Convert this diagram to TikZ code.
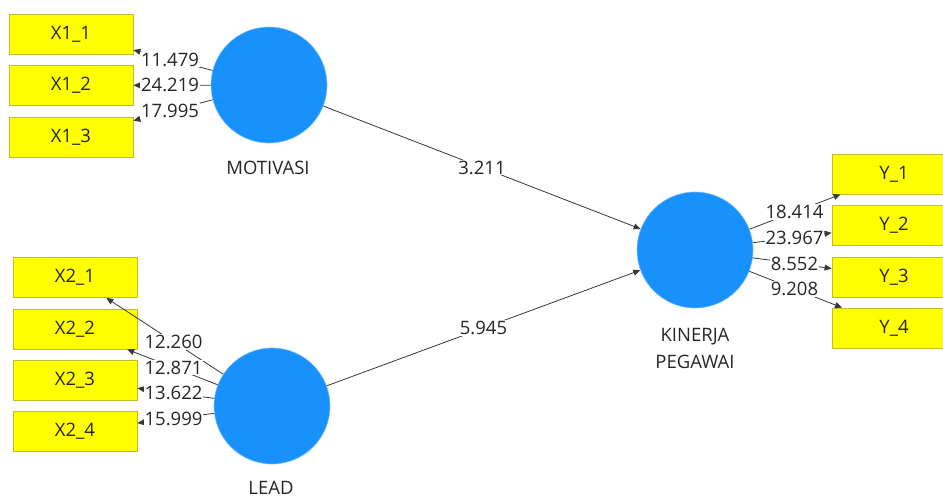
\documentclass[tikz,border=0pt]{standalone}
\usepackage{fontspec}
\setmainfont{Open Sans}
\usetikzlibrary{arrows.meta,calc}
\definecolor{lvblue}{RGB}{25,145,252}
\definecolor{indyel}{RGB}{255,255,0}
\definecolor{indborder}{RGB}{190,190,40}
\definecolor{linegray}{RGB}{55,55,55}
\tikzset{
  ind/.style={draw=indborder, fill=indyel, line width=0.8pt, minimum width=124pt, minimum height=40pt, inner sep=0pt, font=\fontsize{18.5}{22}\selectfont, text=black!85},
  lv/.style={circle, fill=lvblue, draw=lvblue!60, line width=0.6pt, minimum size=116pt, inner sep=0pt},
  lvlabel/.style={font=\fontsize{18.5}{27}\selectfont, align=center, text=black!85},
  conn/.style={draw=linegray, line width=0.8pt, -{Triangle[length=7pt,width=6pt]}},
  val/.style={fill=white, inner sep=1pt, font=\fontsize{18.5}{22}\selectfont, text=black!85}
}
\begin{document}
\begin{tikzpicture}[x=1pt,y=-1pt]
\useasboundingbox (0,0) rectangle (943,498);
% latent variables
\node[lv] (mot) at (269,85) {};
\node[lv] (lead) at (272,406) {};
\node[lv] (kin) at (695,250) {};
\node[lvlabel] (motl) at (268,168) {MOTIVASI};
\node[lvlabel] (leadl) at (271,488) {LEAD};
\node[lvlabel] (kinl) at (695,348) {KINERJA\\PEGAWAI};
% indicators
\node[ind] (x11) at (71,34) {X1\_1};
\node[ind] (x12) at (71,85.5) {X1\_2};
\node[ind] (x13) at (71,137) {X1\_3};
\node[ind] (x21) at (75,277.5) {X2\_1};
\node[ind] (x22) at (75,329) {X2\_2};
\node[ind] (x23) at (75,380) {X2\_3};
\node[ind] (x24) at (75,431) {X2\_4};
\node[ind] (y1) at (894,174) {Y\_1};
\node[ind] (y2) at (894,225) {Y\_2};
\node[ind] (y3) at (894,277) {Y\_3};
\node[ind] (y4) at (894,328) {Y\_4};
% connectors
\foreach \a/\b/\v in {mot/x11/11.479, mot/x12/24.219, mot/x13/17.995,
  lead/x21/12.260, lead/x22/12.871, lead/x23/13.622, lead/x24/15.999,
  kin/y1/18.414, kin/y2/23.967, kin/y3/8.552, kin/y4/9.208,
  mot/kin/3.211, lead/kin/5.945}{
  \draw[conn] (\a) -- (\b);
  \node[val] at ($(\a)!0.5!(\b)$) {\v};
}
\end{tikzpicture}
\end{document}
